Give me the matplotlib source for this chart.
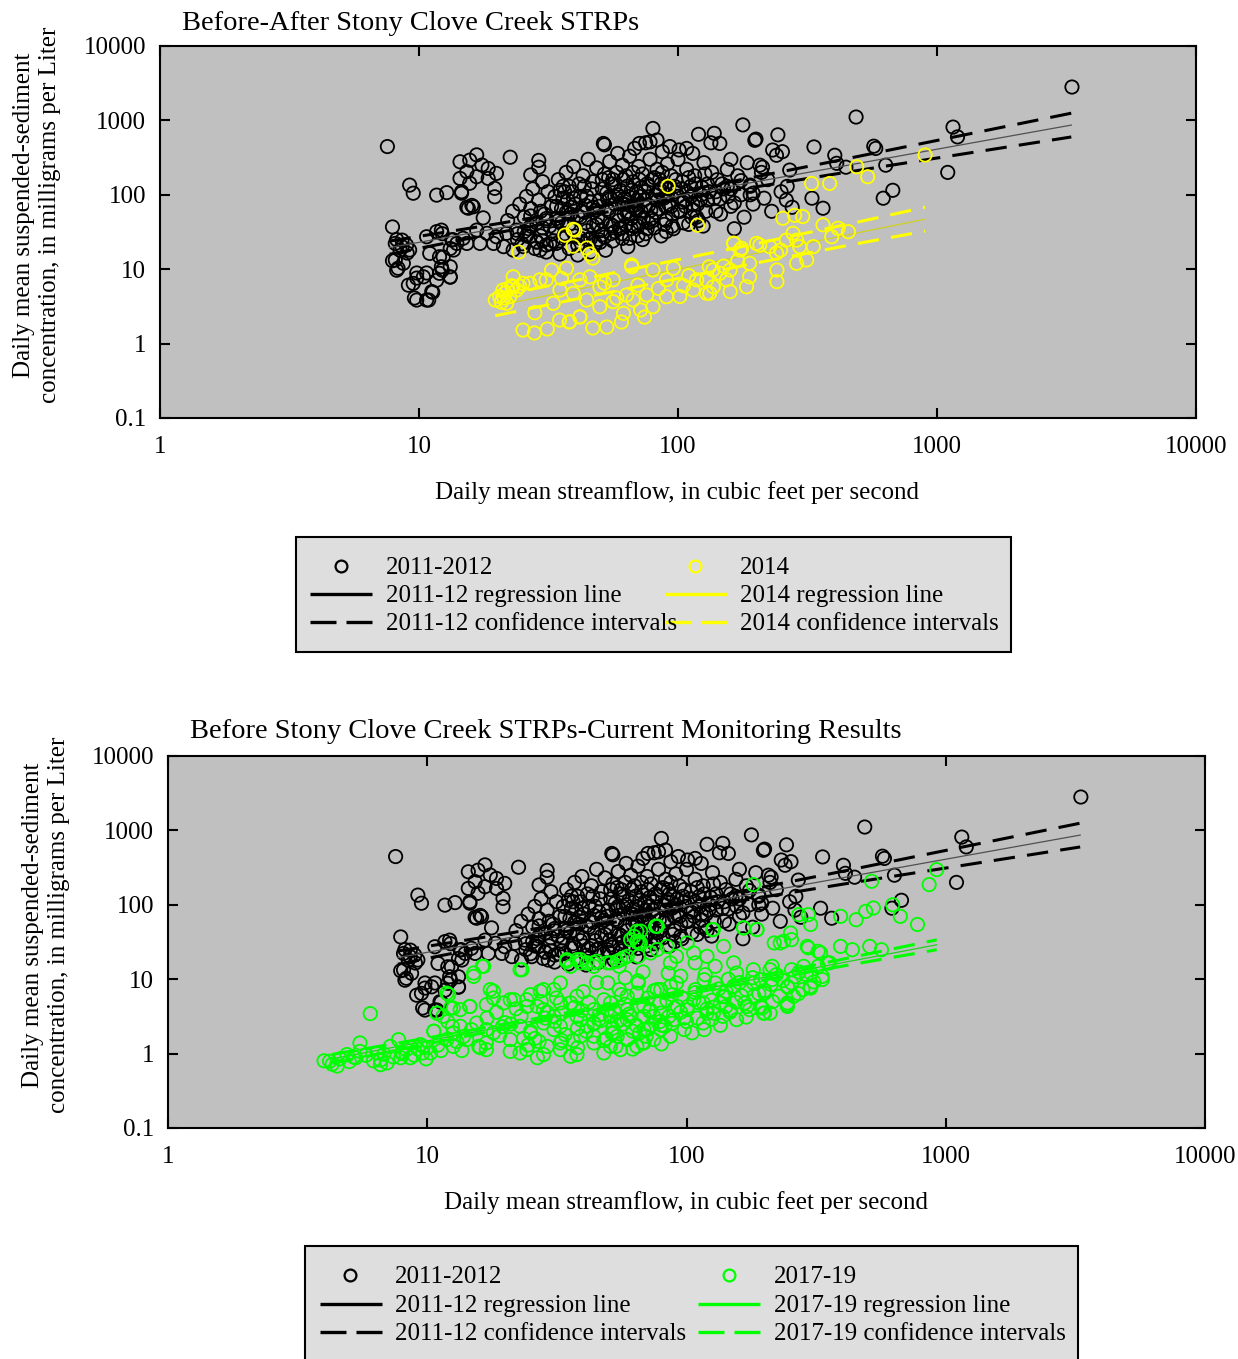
import matplotlib
matplotlib.use("Agg")
import matplotlib.pyplot as plt
from matplotlib.patches import Rectangle

plt.rcParams["font.family"] = ["Liberation Serif", "DejaVu Serif"]

# ---- 2011-2012 samples (streamflow cfs, SSC mg/L) ----
q_1112 = [
    7.55, 7.9, 8.2, 8.6, 9.0, 7.9, 8.2, 9.8, 9.2, 9.5,
    9.1, 9.8, 10.7, 11.7, 9.6, 10.7, 11.3, 13.2, 12.3, 12.3,
    13.2, 13.5, 12.4, 11.7, 12.8, 14.6, 15.3, 16.0, 17.7, 22.5,
    29, 29, 27, 14.4, 15.7, 16.7, 17.5, 18.5, 19.9, 15.3,
    15.7, 14.4, 16.7, 18.5, 19.6, 19.6, 14.6, 15.5, 16.2, 8.6,
    8.95, 8.1, 8.45, 8.1, 8.3, 8.7, 9.2, 10.7, 11.7, 12.2,
    13.4, 14.0, 14.8, 15.3, 11.0, 12.0, 13.6, 13.2, 12.0, 9.5,
    10.4, 11.2, 9.8, 10.9, 12.2, 13.2, 16.7, 18.3, 19.9, 21.8,
    23.8, 17.2, 19.4, 21.2, 23.1, 25.3, 26.8, 28.5, 29.3, 31.0,
    33.9, 22, 23, 24, 24.5, 25, 25.5, 26, 26.5, 27,
    27.5, 28, 28.5, 29, 29.5, 30, 30.5, 31, 31.5, 32,
    32.5, 33, 33.5, 34, 34.5, 35, 35.5, 36, 36.5, 37,
    37.5, 38, 38.5, 39, 39.5, 40, 40.2, 41, 41.5, 42,
    42.5, 43, 44, 44.5, 45, 46, 46.5, 47, 48, 48.5,
    49, 50, 50.5, 51, 52, 52.5, 53, 54, 54.5, 55,
    55.5, 56, 57, 58, 58.5, 59, 60, 60.5, 61, 62,
    63, 64, 64.5, 65, 66, 67, 67.5, 68, 69, 70,
    70.5, 72, 73, 74, 75, 76, 77, 78, 79, 80,
    82, 83, 84, 85, 86, 87, 88, 89, 90, 91,
    92, 94, 96, 98, 100, 102, 104, 106, 108, 110,
    112, 114, 116, 118, 120, 123, 126, 128, 130, 134,
    138, 142, 146, 150, 155, 160, 165, 170, 175, 180,
    185, 190, 195, 200, 210, 215, 222, 230, 240, 250,
    262, 178, 198, 207, 212, 232, 243, 253, 264, 270,
    276, 190, 195, 329, 335, 363, 403, 410, 445, 487,
    570, 580, 620, 634, 675, 1100, 1153, 1200, 3320, 35.5,
    39, 44, 49.5, 53.5, 58, 63.5, 69, 74.5, 81, 37,
    42, 47, 51, 57, 62, 66, 71, 77, 85, 30,
    34, 38, 43, 48, 52, 57, 63, 68, 73, 100,
    105, 110, 115, 125, 135, 145, 155, 165, 175, 26,
    31, 36, 41, 46, 51, 56, 61, 66, 71, 51.5,
    71, 78, 83, 93, 101, 108, 114, 138, 145, 160,
    24, 27, 29.5, 32, 34.5, 37, 39.5, 42, 44.5, 47,
    49.5, 52, 54.5, 57, 59.5, 62, 64.5, 67, 69.5, 72,
    74.5, 77, 79.5, 82, 84.5, 87, 89.5, 92, 95, 98,
    103, 107, 112, 117, 122, 127, 132, 140, 148, 156,
    25.5, 28.5, 31, 33.5, 36, 38.5, 41, 43.5, 46, 48.5,
    51, 53.5, 56, 58.5, 61, 63.5, 66, 68.5, 71, 73.5,
    76, 78.5, 81, 83.5, 86, 88.5, 91, 94, 97, 100,
    104, 108, 113, 119, 124, 130, 36.5, 43.5, 54, 61.5,
    27, 30, 33, 35, 38, 40, 45, 50, 55, 60,
    65, 70, 75, 80, 90, 95, 120, 140, 160, 190,
]
ssc_1112 = [
    445, 37, 25, 20, 16.5, 13, 9.7, 8.9, 135, 105,
    6.1, 7.6, 8.9, 7.1, 4.1, 3.85, 4.9, 7.8, 9.7, 30,
    19, 25, 14.6, 99, 107, 105, 68, 72, 49, 320,
    290, 235, 185, 278, 292, 344, 251, 226, 194, 205,
    143, 166, 175, 166, 122, 94, 110, 66, 69, 24.6,
    21.1, 22.2, 18.1, 13.3, 10.3, 12, 18.1, 27.3, 32, 33.5,
    24.6, 22.2, 26, 22.2, 16.3, 14.7, 18.1, 10.8, 8.8, 6.45,
    7.9, 5, 3.85, 3.85, 10.8, 7.9, 33.5, 30.4, 27.3, 30.4,
    33.5, 22.2, 22.2, 20.1, 18.1, 20.1, 27.3, 23.4, 18.1, 21.1,
    22.2, 45, 60, 30, 75, 22, 50, 95, 35, 65,
    120, 19, 42, 85, 28, 150, 55, 17, 110, 38,
    70, 24, 95, 48, 160, 16, 65, 130, 30, 200,
    85, 19, 55, 110, 240, 36, 75, 15.5, 140, 26,
    60, 180, 42, 95, 300, 17, 120, 68, 22, 230,
    50, 85, 33, 160, 470, 18, 105, 60, 280, 40,
    140, 24, 75, 200, 360, 45, 115, 30, 250, 55,
    180, 20, 95, 330, 70, 150, 38, 420, 110, 28,
    240, 60, 190, 85, 500, 35, 130, 300, 48, 780,
    100, 220, 65, 160, 28, 380, 90, 130, 45, 260,
    75, 180, 35, 110, 300, 60, 150, 85, 220, 40,
    130, 75, 180, 50, 650, 100, 270, 60, 140, 500,
    90, 160, 55, 120, 220, 70, 35, 180, 100, 50,
    270, 130, 75, 560, 200, 90, 160, 60, 340, 110,
    85, 870, 540, 250, 235, 400, 640, 380, 130, 215,
    68, 135, 105, 90, 440, 66, 340, 265, 235, 1110,
    450, 420, 90, 250, 115, 200, 813, 600, 2810, 42,
    33, 72, 25, 88, 52, 130, 62, 110, 170, 58,
    95, 38, 120, 32, 88, 48, 160, 72, 118, 36,
    70, 130, 28, 62, 190, 95, 40, 72, 25, 95,
    42, 170, 62, 38, 200, 88, 130, 78, 155, 28,
    45, 90, 52, 26, 44, 160, 75, 115, 42, 490,
    490, 515, 545, 445, 400, 420, 360, 670, 490, 300,
    25, 38, 60, 22, 45, 27, 90, 50, 33, 150,
    70, 27, 95, 130, 35, 75, 55, 200, 85, 125,
    70, 42, 160, 58, 110, 200, 70, 120, 55, 160,
    120, 70, 95, 140, 85, 190, 110, 60, 140, 95,
    32, 23, 48, 36, 26, 68, 21, 58, 80, 40,
    29, 64, 38, 100, 26, 58, 35, 65, 95, 48,
    140, 62, 36, 85, 140, 40, 100, 70, 130, 60,
    80, 110, 50, 75, 125, 85, 110, 130, 170, 160,
    52, 24, 30, 115, 40, 28, 25, 23, 30, 36,
    26, 38, 30, 45, 32, 38, 45, 110, 120, 100,
]

# ---- 2014 samples ----
q_2014 = [
    24.3, 36.6, 40.0, 39.3, 44.5, 45.7, 46.9, 91.6, 119, 39.4,
    25.2, 27.9, 31.3, 34.9, 38.0, 41.8, 46.9, 53.1, 60.5, 66.3,
    74.3, 32.5, 37.1, 35.5, 41.8, 45.7, 56.2, 63.3, 67.1, 75.7,
    80.0, 90.3, 96, 101.7, 114.5, 132.5, 136.5, 118, 39.4, 44.4,
    49.9, 56.2, 33, 29.3, 26.8, 23.1, 21.1, 22.4, 20.5, 23.8,
    25.2, 19.7, 21.8, 23.1, 35, 31, 49.9, 61.6, 71.8, 80.0,
    90.3, 41.8, 38.2, 328, 385, 540, 490, 254, 282, 303,
    363, 415, 455, 392, 164, 174, 207, 226, 249, 262,
    278, 287, 295, 333, 314, 287, 241, 241, 132, 145,
    159, 189, 129, 137, 154, 189, 184, 159, 129, 66.2,
    164, 176, 201, 899, 21.5, 22.0, 22.8, 20.8, 21.3, 24.5,
    105, 84, 150, 170, 240, 110, 70, 58, 52, 28,
]
ssc_2014 = [
    17, 28.7, 33.5, 20.4, 19.3, 16, 14.1, 130, 39, 34.4,
    1.52, 1.39, 1.57, 2.07, 1.95, 2.27, 1.62, 1.67, 1.95, 10.8,
    2.27, 9.75, 10.3, 7.5, 7.2, 7.9, 7.2, 4.5, 3.85, 4.5,
    9.75, 7.2, 10.3, 4.3, 5.25, 4.75, 9.75, 7.2, 4.75, 3.85,
    3.13, 3.66, 3.48, 7.2, 6.45, 7.9, 5.25, 4.27, 4.27, 5.25,
    6.45, 3.85, 3.48, 5.8, 5.25, 7.2, 5.8, 2.55, 2.83, 3.13,
    4.27, 2.3, 1.97, 142, 142, 175, 238, 48.4, 53, 51,
    39.5, 35.5, 31.9, 27.3, 22.2, 18.1, 21.1, 20.1, 18.1, 24.6,
    30.4, 24.6, 20.1, 20.1, 13.3, 12.0, 9.75, 6.8, 10.8, 8.8,
    9.75, 12, 7.2, 5.8, 7.2, 7.9, 5.8, 5, 4.75, 11.4,
    22.4, 19.1, 22.2, 343, 4.8, 5.5, 6.0, 3.6, 4.1, 5.9,
    6.0, 5.5, 11, 13, 16.5, 8.2, 6.1, 4.1, 6.5, 2.6,
]

# ---- 2017-19 samples ----
q_1719 = [
    6.03, 4.0, 4.2, 4.5, 4.9, 5.5, 6.4, 7.2, 7.75, 8.3,
    9.4, 10.6, 11.9, 6.6, 7.0, 5.5, 7.9, 9.6, 8.6, 12.1,
    15.1, 16.3, 23.2, 10.9, 11.5, 12.6, 14.6, 17.5, 18.0, 20.9,
    24.2, 28.1, 32.6, 35.7, 39.0, 43.9, 50.9, 59.1, 62.7, 66.5,
    77.1, 64.3, 13.4, 15.5, 18.0, 20.9, 24.2, 28.1, 32.6, 37.8,
    43.9, 50.9, 59.1, 68.5, 79.5, 14.2, 16.9, 20.9, 29.0, 39.0,
    54.0, 68.5, 24.2, 28.1, 32.6, 37.8, 43.9, 50.9, 59.1, 68.5,
    79.5, 28.1, 32.6, 37.8, 43.9, 50.9, 59.1, 68.5, 79.5, 92.3,
    34.5, 39, 43.9, 55.6, 76.0, 65.3, 126, 166, 187, 181,
    271, 295, 301, 393, 451, 491, 526, 624, 668, 778,
    518, 863, 923, 218, 237, 254, 295, 322, 393, 436,
    509, 565, 356, 334, 301, 245, 200, 196, 49.7, 55,
    65.2, 77, 91.5, 108, 129, 152, 181, 214, 254, 301,
    322, 55, 65.2, 77, 91.5, 108, 129, 152, 181, 214,
    254, 49.7, 61.0, 72.3, 85.6, 101, 120, 142, 168, 51.5,
    59.1, 69.9, 82.6, 98, 116, 138, 53.4, 67.6, 193, 245,
    116, 138, 200, 228, 281, 334, 10.6, 9.65, 10.3, 11.9,
    10.9, 12.3, 13.4, 14.6, 16.9, 18.0, 19.7, 21.6, 25.0, 27.3,
    30.8, 15.1, 16.5, 22.8, 34.5, 37.8, 41.3, 45.1, 49.4, 54.0,
    57.3, 60.9, 64.3, 66.4, 77.1, 72.7, 84.0, 86.7, 100.6, 106.6,
    120, 127, 139, 166, 187, 230, 252, 292, 329, 349,
    300, 245, 198, 12.6, 16.9, 22.8, 26.6, 35.7, 48.0, 64.3,
    86.7, 117, 156, 210, 12.6, 16.9, 22.8, 30.8, 41.3, 55.6,
    74.8, 100.6, 135, 182, 245, 26.6, 35.7, 48, 64.3, 86.7,
    117, 156, 210, 283, 30.8, 39, 43.9, 52.4, 59.1, 70.6,
    78.8, 89.3, 106.6, 127, 152, 171, 193, 259, 32.6, 55.6,
    74.8, 4.3, 4.6, 5.0, 5.2, 5.8, 6.2, 6.8, 7.4, 8.0,
    8.9, 9.2, 10.0, 11.0, 13.0, 15.8, 19.0, 23.5, 27.0, 36.5,
    46, 57, 88, 95, 125, 148, 175, 215, 270, 310,
    20, 23, 26, 29, 33, 37, 41, 46, 52, 58,
    64, 71, 79, 88, 98, 108, 120, 133, 147, 163,
    180, 200, 222, 246, 272, 17, 21, 25, 31, 38,
    47, 53, 62, 73, 84, 96, 110, 125, 142, 160,
    12, 14.8, 18.5, 22, 27.5, 33, 40, 45, 58, 68,
    13.8, 16, 19.5, 24.5, 28.5, 34, 39.5, 44, 49, 54,
    60, 66, 72, 80, 90, 100, 112, 127, 140, 155,
    170, 190, 212, 235, 262, 290, 31.5, 42, 56, 75,
    95, 118, 145, 12.5, 13.6, 11.3, 8.0, 9.9, 5.3, 6.6,
    38, 48, 62, 80, 105, 135, 170, 65, 85, 25,
]
ssc_1719 = [
    3.45, 0.8, 0.79, 0.68, 0.97, 1.39, 1.02, 1.25, 1.54, 1.13,
    1.32, 2.0, 1.54, 0.71, 0.75, 1.07, 0.88, 1.02, 0.88, 6.2,
    10.9, 14.9, 13.4, 3.5, 3.17, 4.1, 4.3, 7.25, 5.6, 5.3,
    4.3, 7.25, 8.9, 14.9, 18.3, 16.6, 16.6, 20.3, 37.7, 44.2,
    51.5, 32.3, 2.33, 2.58, 1.9, 1.54, 1.13, 0.97, 1.13, 0.97,
    1.39, 1.25, 1.54, 1.39, 2.1, 1.54, 1.39, 1.07, 1.25, 1.71,
    1.71, 2.1, 5.3, 3.9, 4.8, 5.9, 3.9, 4.8, 5.9, 4.3,
    7.25, 2.58, 2.33, 3.17, 2.58, 3.17, 2.86, 3.17, 3.5, 4.3,
    18.3, 16.6, 14.9, 18.3, 51.5, 30.7, 46.4, 48.9, 46.4, 187,
    73.7, 73.7, 54.4, 70, 63, 81.6, 90.5, 100, 70, 54.4,
    207, 187, 297, 30.7, 32.3, 34, 26.4, 23.7, 27.6, 24.9,
    27.6, 24.9, 16.6, 9.9, 7.6, 4.3, 3.5, 4.1, 8.9, 14.9,
    20.3, 25, 20.3, 16.6, 14.9, 16.6, 13.4, 14.9, 13.4, 12.1,
    14.9, 7.25, 8.9, 7.25, 8.9, 7.25, 8.9, 8.0, 8.9, 9.9,
    8.9, 3.9, 3.17, 3.9, 3.17, 4.3, 3.5, 4.3, 4.8, 1.9,
    1.54, 1.71, 2.33, 2.1, 2.58, 3.17, 1.25, 1.39, 4.3, 4.55,
    4.8, 5.9, 6.5, 5.9, 7.25, 10.9, 2.0, 1.25, 1.02, 6.5,
    3.5, 4.1, 3.9, 4.3, 4.55, 6.9, 4.8, 5.3, 6.2, 6.9,
    7.25, 12.1, 14.9, 13.4, 17.4, 18.3, 16.6, 17.4, 16.6, 17.4,
    19.3, 34, 44, 30.7, 51.5, 22.5, 27.6, 16.6, 30.7, 22.5,
    20.3, 46.4, 27.6, 48.9, 46.4, 30.7, 41.8, 27.6, 22.5, 16.6,
    8.0, 4.8, 3.5, 1.25, 1.13, 1.02, 0.88, 0.92, 1.02, 1.25,
    1.71, 2.1, 2.86, 3.5, 1.9, 2.1, 2.33, 2.1, 2.33, 2.86,
    3.17, 3.9, 4.8, 5.9, 8.0, 4.3, 4.8, 5.3, 6.5, 8.0,
    9.85, 12.1, 13.4, 14.9, 3.17, 2.86, 1.71, 1.9, 3.9, 2.1,
    4.8, 2.86, 5.3, 3.5, 8.0, 4.3, 9.85, 5.9, 1.39, 1.13,
    1.54, 0.72, 0.85, 0.78, 0.9, 0.95, 0.8, 0.98, 0.9, 1.05,
    0.95, 1.15, 1.2, 1.3, 1.45, 1.25, 1.75, 1.6, 1.45, 1.5,
    2.9, 2.5, 2.55, 3.6, 2.9, 3.8, 3.9, 5.0, 6.4, 9.2,
    2.6, 3.2, 1.6, 3.6, 1.5, 4.2, 2.0, 3.3, 2.2, 4.6,
    2.4, 5.6, 2.7, 6.2, 3.0, 6.6, 4.0, 7.4, 3.6, 6.0,
    10.5, 7.0, 11.5, 7.8, 12.5, 3.0, 2.5, 1.9, 2.7, 2.2,
    2.8, 3.6, 2.0, 2.4, 5.2, 5.6, 3.0, 5.2, 6.8, 9.0,
    2.7, 2.1, 3.6, 4.0, 5.0, 3.5, 6.8, 9.0, 10.5, 12.5,
    1.7, 1.2, 2.3, 1.3, 3.0, 1.8, 3.8, 2.5, 1.6, 2.7,
    3.4, 1.9, 3.7, 2.4, 4.1, 2.7, 4.8, 4.2, 5.8, 4.9,
    7.2, 6.4, 8.5, 9.6, 10.8, 11.5, 5.6, 4.9, 6.2, 7.0,
    11.0, 11.5, 10.0, 2.3, 1.1, 1.1, 1.0, 0.85, 0.88, 0.82,
    1.2, 1.5, 1.15, 1.35, 1.9, 2.4, 3.1, 9.5, 12.0, 2.0,
]

# ---- regression lines and confidence intervals ----
reg_1112_q = [7.7, 20, 56, 150, 400, 1000, 3300]
reg_1112_mid = [19.5, 35.4, 67.5, 125, 231, 410, 865]
reg_1112_hi = [23.9, 40.7, 75.2, 143.5, 282, 538, 1250]
reg_1112_lo = [15.9, 30.8, 60.6, 108.9, 189, 312, 599]

reg_2014_q = [19.7, 40, 80, 200, 500, 900]
reg_2014_mid = [3.2, 5.26, 8.57, 16.3, 31.1, 47]
reg_2014_hi = [4.32, 7.02, 11.43, 22.0, 43.4, 68]
reg_2014_lo = [2.37, 3.94, 6.42, 12.1, 22.3, 32.5]

reg_1719_q = [4.3, 10, 30, 100, 300, 923]
reg_1719_mid = [0.85, 1.48, 3.05, 6.7, 13.8, 29]
reg_1719_hi = [0.976, 1.62, 3.23, 7.1, 15.1, 33.8]
reg_1719_lo = [0.74, 1.35, 2.88, 6.33, 12.6, 24.9]

x_ticks = [1, 10, 100, 1000, 10000]
x_labels = ["1", "10", "100", "1000", "10000"]
y_ticks = [0.1, 1, 10, 100, 1000, 10000]
y_labels = ["0.1", "1", "10", "100", "1000", "10000"]

YELLOW = "#ffff00"
GREEN = "#00ff00"
W, H = 1238, 1359
FS = 18


def style_axes(ax):
    ax.set_xscale("log")
    ax.set_yscale("log")
    ax.set_xlim(1, 10000)
    ax.set_ylim(0.1, 10000)
    ax.set_facecolor("#c0c0c0")
    ax.set_xticks(x_ticks)
    ax.set_xticklabels(x_labels)
    ax.set_yticks(y_ticks)
    ax.set_yticklabels(y_labels)
    ax.minorticks_off()
    ax.tick_params(which="major", direction="in", top=True, right=True,
                   length=7, width=1.5, labelsize=18)
    ax.tick_params(axis="x", pad=13)
    ax.tick_params(axis="y", pad=10)
    for sp in ax.spines.values():
        sp.set_linewidth(1.5)


def draw_reg(ax, q, mid, hi, lo, color, midcolor):
    ax.plot(q, mid, color=midcolor, lw=0.9, zorder=4)
    for band in (hi, lo):
        ax.plot(q, band, color=color, lw=2.2, dashes=(7, 4),
                solid_capstyle="butt", dash_capstyle="butt", zorder=4)


def scatter(ax, q, c, color, z):
    ax.scatter(q, c, s=92, facecolors="none", edgecolors=color,
               linewidths=1.3, zorder=z)


def add_axes_px(fig, left, top, right, bottom):
    return fig.add_axes([left / W, 1 - bottom / H, (right - left) / W,
                         (bottom - top) / H])


fig = plt.figure(figsize=(W / 100, H / 100), dpi=100)
fig.patch.set_facecolor("white")

# top panel
ax1 = add_axes_px(fig, 160, 46, 1196, 418)
style_axes(ax1)
scatter(ax1, q_1112, ssc_1112, "black", 2)
draw_reg(ax1, reg_1112_q, reg_1112_mid, reg_1112_hi, reg_1112_lo,
         "black", "#505050")
scatter(ax1, q_2014, ssc_2014, YELLOW, 5)
draw_reg(ax1, reg_2014_q, reg_2014_mid, reg_2014_hi, reg_2014_lo,
         YELLOW, "#d0d020")

# bottom panel
ax2 = add_axes_px(fig, 168, 756, 1205, 1128)
style_axes(ax2)
scatter(ax2, q_1112, ssc_1112, "black", 2)
draw_reg(ax2, reg_1112_q, reg_1112_mid, reg_1112_hi, reg_1112_lo,
         "black", "#505050")
scatter(ax2, q_1719, ssc_1719, GREEN, 5)
draw_reg(ax2, reg_1719_q, reg_1719_mid, reg_1719_hi, reg_1719_lo,
         GREEN, "#20d020")

# overlay for titles, labels and legends (pixel coordinates)
ov = fig.add_axes([0, 0, 1, 1])
ov.set_xlim(0, W)
ov.set_ylim(H, 0)
ov.axis("off")
ov.patch.set_alpha(0)

ylab = "Daily mean suspended-sediment\nconcentration, in milligrams per Liter"
xlab = "Daily mean streamflow, in cubic feet per second"

ov.text(182, 23, "Before-After Stony Clove Creek STRPs", fontsize=20.5,
        ha="left", va="center")
ov.text(37, 215, ylab, rotation=90, fontsize=FS, ha="center", va="center",
        multialignment="center", linespacing=1.2)
ov.text(677, 493, xlab, fontsize=FS, ha="center", va="center")

ov.text(190, 732, "Before Stony Clove Creek STRPs-Current Monitoring Results",
        fontsize=20.5, ha="left", va="center")
ov.text(46, 925, ylab, rotation=90, fontsize=FS, ha="center", va="center",
        multialignment="center", linespacing=1.2)
ov.text(686, 1203, xlab, fontsize=FS, ha="center", va="center")


def legend_box(x0, y0, x1, y1, rows, cols):
    ov.add_patch(Rectangle((x0, y0), x1 - x0, y1 - y0, facecolor="#dedede",
                           edgecolor="black", lw=1.5, zorder=1))
    for (mx, lx0, lx1, tx, color, labels) in cols:
        r0, r1, r2 = rows
        ov.plot([mx], [r0], marker="o", ms=8.5, mfc="none", mec=color,
                mew=1.6, zorder=3)
        ov.plot([lx0, lx1], [r1, r1], color=color, lw=2.4, zorder=3,
                solid_capstyle="butt")
        seg = (lx1 - lx0 - 10) / 2
        ov.plot([lx0, lx0 + seg], [r2, r2], color=color, lw=2.4, zorder=3,
                solid_capstyle="butt")
        ov.plot([lx1 - seg, lx1], [r2, r2], color=color, lw=2.4, zorder=3,
                solid_capstyle="butt")
        for r, lab in zip(rows, labels):
            ov.text(tx, r + 2, lab, fontsize=FS, ha="left", va="center",
                    zorder=4)


legend_box(296, 537, 1011, 652, (566, 594, 622), [
    (341, 310, 372, 386, "black",
     ["2011-2012", "2011-12 regression line", "2011-12 confidence intervals"]),
    (695, 665, 727, 740, YELLOW,
     ["2014", "2014 regression line", "2014 confidence intervals"]),
])
legend_box(305, 1246, 1078, 1375, (1275, 1304, 1332), [
    (350, 320, 382, 395, "black",
     ["2011-2012", "2011-12 regression line", "2011-12 confidence intervals"]),
    (729, 698, 760, 774, GREEN,
     ["2017-19", "2017-19 regression line", "2017-19 confidence intervals"]),
])

fig.savefig("out.png", dpi=100)
